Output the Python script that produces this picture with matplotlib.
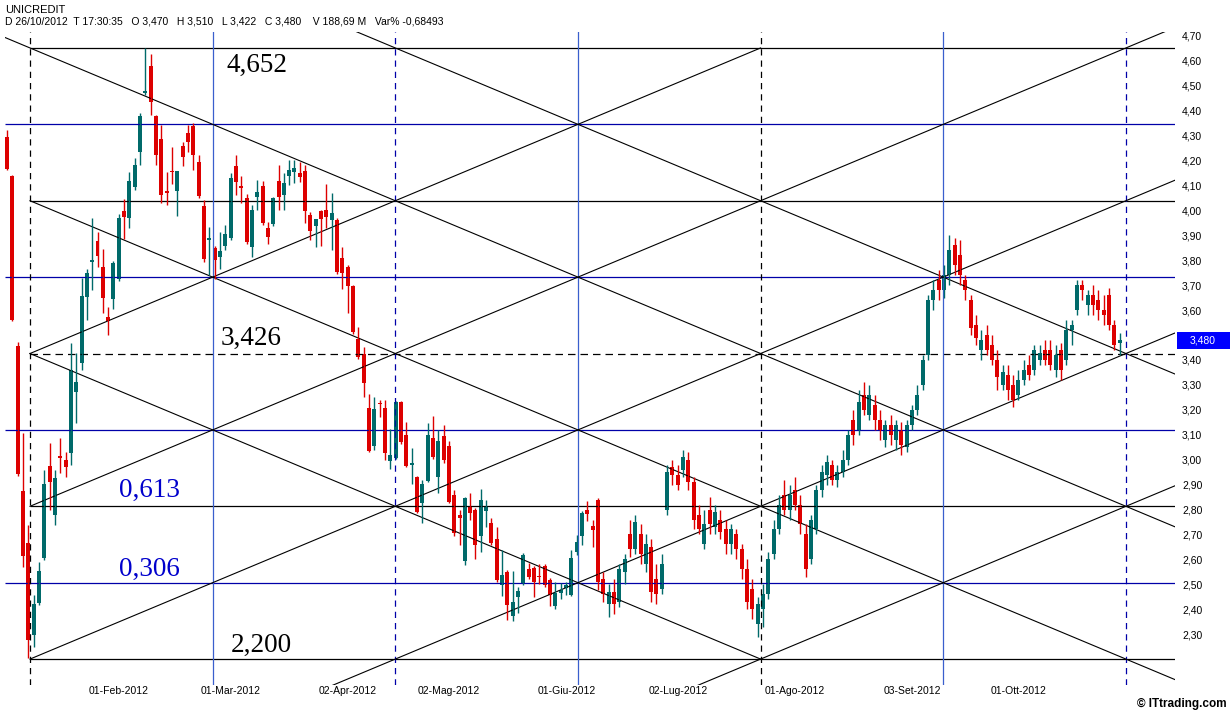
import matplotlib
matplotlib.use("Agg")
import matplotlib.pyplot as plt
import matplotlib.transforms as mtransforms
from matplotlib.patches import Rectangle
import numpy as np

# UNICREDIT daily candles from 02/01/2012 to 26/10/2012
opens = [4.295, 4.138, 3.456, 2.874, 2.665, 2.296, 2.425, 2.605, 2.974, 2.778,
         3.015, 2.999, 3.027, 3.271, 3.388, 3.653, 3.795, 3.877, 3.773, 3.572,
         3.645, 3.725, 3.998, 3.970, 4.094, 4.235, 4.471, 4.580, 4.379, 4.287,
         4.078, 4.158, 4.078, 4.259, 4.311, 4.339, 4.194, 4.018, 3.881, 3.849,
         3.813, 3.857, 3.889, 4.178, 4.098, 4.050, 3.853, 4.054, 4.098, 3.930,
         3.946, 4.118, 4.062, 4.138, 4.154, 4.150, 4.158, 3.982, 3.938, 3.998,
         4.002, 3.962, 3.962, 3.809, 3.773, 3.697, 3.484, 3.424, 3.207, 3.055,
         3.227, 3.207, 2.995, 3.007, 3.231, 3.099, 2.979, 2.930, 2.826, 2.914,
         3.087, 2.930, 3.095, 3.055, 2.858, 2.778, 2.593, 2.814, 2.798, 2.694,
         2.794, 2.746, 2.682, 2.497, 2.549, 2.373, 2.449, 2.505, 2.561, 2.565,
         2.533, 2.573, 2.517, 2.413, 2.465, 2.485, 2.457, 2.629, 2.694, 2.798,
         2.734, 2.838, 2.52, 2.42, 2.47, 2.43, 2.55, 2.70, 2.64, 2.70,
         2.58, 2.65, 2.52, 2.48, 2.80, 2.97, 2.94, 2.96, 3.00, 2.91,
         2.78, 2.66, 2.80, 2.73, 2.76, 2.72, 2.66, 2.70, 2.64, 2.56,
         2.48, 2.34, 2.40, 2.46, 2.62, 2.72, 2.86, 2.80, 2.88, 2.82,
         2.70, 2.60, 2.72, 2.88, 2.94, 2.98, 2.92, 2.95, 3.00, 3.16,
         3.12, 3.26, 3.18, 3.22, 3.16, 3.08, 3.14, 3.08, 3.12, 3.05,
         3.14, 3.20, 3.30, 3.42, 3.64, 3.72, 3.68, 3.74, 3.86, 3.82,
         3.72, 3.64, 3.54, 3.44, 3.50, 3.46, 3.40, 3.30, 3.34, 3.30,
         3.26, 3.32, 3.38, 3.36, 3.40, 3.44, 3.44, 3.36, 3.44, 3.40,
         3.52, 3.60, 3.70, 3.62, 3.66, 3.64, 3.60, 3.66, 3.54, 3.470]
highs = [4.323, 4.142, 3.472, 3.107, 2.738, 2.457, 2.589, 2.958, 3.067, 2.958,
         3.087, 3.031, 3.468, 3.428, 3.729, 3.765, 3.970, 3.913, 3.845, 3.613,
         3.797, 3.986, 4.046, 4.154, 4.210, 4.391, 4.652, 4.628, 4.383, 4.343,
         4.154, 4.255, 4.158, 4.275, 4.343, 4.351, 4.222, 4.042, 3.934, 3.857,
         3.913, 3.942, 4.150, 4.222, 4.138, 4.066, 4.022, 4.122, 4.118, 3.954,
         4.054, 4.182, 4.150, 4.202, 4.202, 4.194, 4.182, 3.994, 3.954, 4.002,
         4.106, 4.070, 3.970, 3.853, 3.781, 3.701, 3.532, 3.452, 3.263, 3.251,
         3.239, 3.239, 3.123, 3.235, 3.235, 3.151, 3.047, 2.934, 2.918, 3.147,
         3.175, 3.119, 3.139, 3.075, 2.878, 2.798, 2.850, 2.866, 2.806, 2.882,
         2.838, 2.766, 2.730, 2.637, 2.557, 2.553, 2.489, 2.625, 2.585, 2.573,
         2.581, 2.581, 2.525, 2.509, 2.505, 2.509, 2.637, 2.698, 2.794, 2.834,
         2.758, 2.846, 2.55, 2.50, 2.52, 2.58, 2.62, 2.76, 2.78, 2.74,
         2.70, 2.68, 2.58, 2.62, 2.98, 3.00, 2.98, 3.04, 3.03, 2.93,
         2.82, 2.80, 2.85, 2.82, 2.80, 2.76, 2.74, 2.72, 2.66, 2.60,
         2.52, 2.45, 2.50, 2.63, 2.76, 2.86, 2.92, 2.90, 2.93, 2.86,
         2.74, 2.78, 2.90, 2.98, 3.02, 3.00, 2.98, 3.04, 3.12, 3.20,
         3.28, 3.31, 3.30, 3.26, 3.20, 3.16, 3.18, 3.16, 3.15, 3.16,
         3.22, 3.30, 3.42, 3.66, 3.72, 3.76, 3.78, 3.90, 3.89, 3.88,
         3.74, 3.66, 3.58, 3.52, 3.54, 3.50, 3.44, 3.38, 3.38, 3.34,
         3.36, 3.40, 3.42, 3.46, 3.46, 3.48, 3.48, 3.46, 3.47, 3.56,
         3.56, 3.72, 3.72, 3.68, 3.70, 3.68, 3.66, 3.69, 3.56, 3.510]
lows = [4.162, 3.556, 2.934, 2.569, 2.204, 2.248, 2.417, 2.597, 2.798, 2.738,
        2.946, 2.930, 2.979, 3.147, 3.360, 3.560, 3.681, 3.773, 3.588, 3.500,
        3.604, 3.717, 3.885, 3.930, 4.082, 4.182, 4.463, 4.383, 4.182, 4.030,
        4.022, 4.106, 3.978, 4.178, 4.235, 4.162, 4.050, 3.793, 3.741, 3.725,
        3.765, 3.841, 3.881, 4.062, 4.030, 3.865, 3.813, 4.002, 3.942, 3.865,
        3.938, 4.002, 4.002, 4.102, 4.110, 4.114, 3.950, 3.881, 3.853, 3.857,
        3.930, 3.841, 3.745, 3.685, 3.588, 3.504, 3.404, 3.251, 3.031, 3.039,
        3.171, 2.999, 2.962, 3.003, 3.063, 2.970, 2.902, 2.786, 2.746, 2.910,
        3.003, 2.866, 2.987, 2.826, 2.694, 2.657, 2.577, 2.758, 2.601, 2.629,
        2.730, 2.657, 2.509, 2.453, 2.357, 2.353, 2.385, 2.497, 2.521, 2.449,
        2.501, 2.489, 2.413, 2.401, 2.441, 2.457, 2.453, 2.617, 2.657, 2.754,
        2.649, 2.477, 2.43, 2.37, 2.38, 2.41, 2.50, 2.61, 2.62, 2.58,
        2.55, 2.43, 2.42, 2.46, 2.78, 2.90, 2.88, 2.93, 2.88, 2.72,
        2.70, 2.64, 2.70, 2.70, 2.68, 2.62, 2.62, 2.60, 2.52, 2.40,
        2.36, 2.29, 2.33, 2.44, 2.60, 2.70, 2.78, 2.76, 2.80, 2.70,
        2.53, 2.58, 2.70, 2.85, 2.90, 2.90, 2.89, 2.93, 2.98, 3.06,
        3.10, 3.18, 3.16, 3.12, 3.08, 3.05, 3.06, 3.04, 3.02, 3.03,
        3.12, 3.18, 3.28, 3.40, 3.60, 3.64, 3.65, 3.70, 3.74, 3.70,
        3.64, 3.50, 3.46, 3.40, 3.42, 3.38, 3.28, 3.28, 3.24, 3.21,
        3.24, 3.30, 3.32, 3.34, 3.38, 3.38, 3.36, 3.33, 3.32, 3.38,
        3.46, 3.58, 3.64, 3.58, 3.58, 3.56, 3.54, 3.52, 3.44, 3.422]
closes = [4.166, 3.560, 2.942, 2.613, 2.276, 2.421, 2.553, 2.902, 2.910, 2.926,
          3.007, 2.970, 3.360, 3.312, 3.657, 3.749, 3.799, 3.817, 3.649, 3.556,
          3.789, 3.970, 3.974, 4.118, 4.182, 4.379, 4.479, 4.435, 4.222, 4.062,
          4.070, 4.154, 4.158, 4.214, 4.275, 4.222, 4.058, 3.805, 3.889, 3.801,
          3.837, 3.905, 4.130, 4.114, 4.090, 3.873, 4.002, 4.074, 3.950, 3.893,
          4.050, 4.054, 4.110, 4.162, 4.170, 4.134, 3.998, 3.917, 3.966, 3.966,
          3.974, 3.990, 3.753, 3.749, 3.697, 3.512, 3.412, 3.308, 3.035, 3.203,
          3.223, 3.027, 3.019, 3.231, 3.071, 2.974, 2.987, 2.790, 2.902, 3.099,
          3.011, 3.075, 2.999, 2.830, 2.706, 2.766, 2.846, 2.786, 2.657, 2.838,
          2.810, 2.665, 2.517, 2.537, 2.417, 2.429, 2.473, 2.617, 2.529, 2.509,
          2.529, 2.497, 2.457, 2.465, 2.477, 2.497, 2.605, 2.670, 2.786, 2.782,
          2.718, 2.509, 2.46, 2.47, 2.42, 2.56, 2.60, 2.64, 2.75, 2.62,
          2.66, 2.47, 2.46, 2.58, 2.95, 2.94, 2.90, 3.01, 2.91, 2.76,
          2.72, 2.74, 2.74, 2.79, 2.71, 2.66, 2.72, 2.64, 2.56, 2.43,
          2.40, 2.42, 2.46, 2.60, 2.72, 2.82, 2.80, 2.86, 2.82, 2.74,
          2.56, 2.76, 2.88, 2.95, 2.99, 2.92, 2.95, 3.00, 3.10, 3.10,
          3.23, 3.20, 3.26, 3.16, 3.12, 3.14, 3.10, 3.14, 3.06, 3.14,
          3.20, 3.26, 3.40, 3.64, 3.68, 3.68, 3.74, 3.84, 3.78, 3.74,
          3.68, 3.53, 3.49, 3.48, 3.44, 3.40, 3.33, 3.35, 3.28, 3.24,
          3.32, 3.36, 3.34, 3.44, 3.43, 3.40, 3.38, 3.42, 3.36, 3.52,
          3.54, 3.70, 3.68, 3.66, 3.62, 3.60, 3.58, 3.54, 3.46, 3.480]

date_labels = ["01-Feb-2012", "01-Mar-2012", "02-Apr-2012", "02-Mag-2012", "01-Giu-2012",
               "02-Lug-2012", "01-Ago-2012", "03-Set-2012", "01-Ott-2012"]
date_index = [22, 43, 65, 84, 106, 127, 149, 171, 191]

header = "D 26/10/2012  T 17:30:35   O 3,470   H 3,510   L 3,422   C 3,480    V 188,69 M   Var% -0,68493"
last_close = 3.480

# Gann box: from the Jan low to the Feb high, 8 price steps, 6 time steps
box_low = 2.200
box_high = 4.652
n_price = 8
t0 = 4.32
dt = 34.31
step = (box_high - box_low) / n_price

RED = "#dd0000"
TEAL = "#006a6a"
NAVY = "#0000a8"
LBLUE = "#3a5fcd"
SANS = ["Liberation Sans", "DejaVu Sans"]

fig = plt.figure(figsize=(12.3, 7.11), dpi=100)
ax = fig.add_axes([5 / 1230, 26 / 711, 1170 / 1230, 653 / 711])
ax.set_xlim(-0.376, 219.4)
ax.set_ylim(2.096, 4.716)

# horizontal levels
for k in range(n_price + 1):
    lvl = box_low + k * step
    if k == 4:
        ax.hlines(lvl, t0, 219.4, colors="black", lw=0.9, linestyles=(0, (6, 4)))
    elif k % 2 == 0:
        ax.hlines(lvl, t0, 219.4, colors="black", lw=0.9)
    else:
        ax.hlines(lvl, -0.376, 219.4, colors=NAVY, lw=0.9)

# vertical time lines
vstyle = [("black", (0, (5, 4))), (LBLUE, "solid"), (NAVY, (0, (5, 4))), (LBLUE, "solid"),
          ("black", (0, (5, 4))), (LBLUE, "solid"), (NAVY, (0, (5, 4)))]
for k, (col, ls) in enumerate(vstyle):
    ax.axvline(t0 + k * dt, color=col, lw=0.9, linestyle=ls)

# diagonals in box units: (direction, offset, u_start, u_end)
diagonals = [(1, 4, 0, 4), (1, 2, 0, 8), (1, 0, 0, 8), (1, -2, 1.5, 8), (1, -4, 3.5, 8),
             (-1, 4, 0, 4), (-1, 6, 0, 8), (-1, 8, -1, 8), (-1, 10, 1.5, 8)]
for d, c, u1, u2 in diagonals:
    u = np.array([u1, u2])
    v = d * u + c
    ax.plot(t0 + u * dt, box_low + v * step, color="black", lw=0.8)

# candles
for i in range(len(opens)):
    o, h, l, c = opens[i], highs[i], lows[i], closes[i]
    col = TEAL if c >= o else RED
    ax.vlines(i, l, h, colors=col, lw=1.0)
    body = max(abs(c - o), 0.006)
    ax.bar(i, body, bottom=min(o, c) - (body - abs(c - o)) / 2, width=0.75, color=col, lw=0)

# level annotations
serif = ["Liberation Serif", "DejaVu Serif"]
ax.text(41.2, 4.555, "4,652", fontsize=19.5, family=serif, color="black")
ax.text(40.2, 3.46, "3,426", fontsize=19.5, family=serif, color="black")
ax.text(21.0, 2.85, "0,613", fontsize=19.5, family=serif, color="#0000cc")
ax.text(21.0, 2.535, "0,306", fontsize=19.5, family=serif, color="#0000cc")
ax.text(42.0, 2.23, "2,200", fontsize=19.5, family=serif, color="black")

# axes cosmetics
for s in ax.spines.values():
    s.set_visible(False)
yt = [round(v, 2) for v in np.arange(2.3, 4.71, 0.1) if abs(v - 3.5) > 0.01]
ax.set_yticks(yt)
ax.set_yticklabels([f"{v:.2f}".replace(".", ",") for v in yt])
ax.yaxis.tick_right()
ax.tick_params(axis="y", length=0, pad=5, labelsize=7.5)
ax.set_xticks(date_index)
ax.set_xticklabels(date_labels)
ax.tick_params(axis="x", length=0, pad=1, labelsize=7.5)
shift = mtransforms.ScaledTranslation(-5 / 100, 0, fig.dpi_scale_trans)
for lab in ax.get_xticklabels():
    lab.set_transform(lab.get_transform() + shift)
for lab in ax.get_xticklabels() + ax.get_yticklabels():
    lab.set_family(SANS)

# last price box on the price scale
ymark = ax.transData.transform((0, last_close))[1] / 711
fig.patches.append(Rectangle((1177 / 1230, ymark - 8.5 / 711), 53 / 1230, 17 / 711,
                             transform=fig.transFigure, fc="#0000ff", ec="none"))
fig.text(1203 / 1230, ymark, f"{last_close:.3f}".replace(".", ","), fontsize=7.5, color="white",
         ha="center", va="center", family=SANS)

fig.text(5 / 1230, 1 - 10 / 711, "UNICREDIT", fontsize=8, va="center", family=SANS)
fig.text(5 / 1230, 1 - 22 / 711, header, fontsize=7.5, va="center", family=SANS)
fig.text(1 - 3 / 1230, 7 / 711, "© ITtrading.com", fontsize=8.5, ha="right", va="center", weight="bold",
         family=SANS)

fig.savefig("out.png", dpi=100, facecolor="white")
